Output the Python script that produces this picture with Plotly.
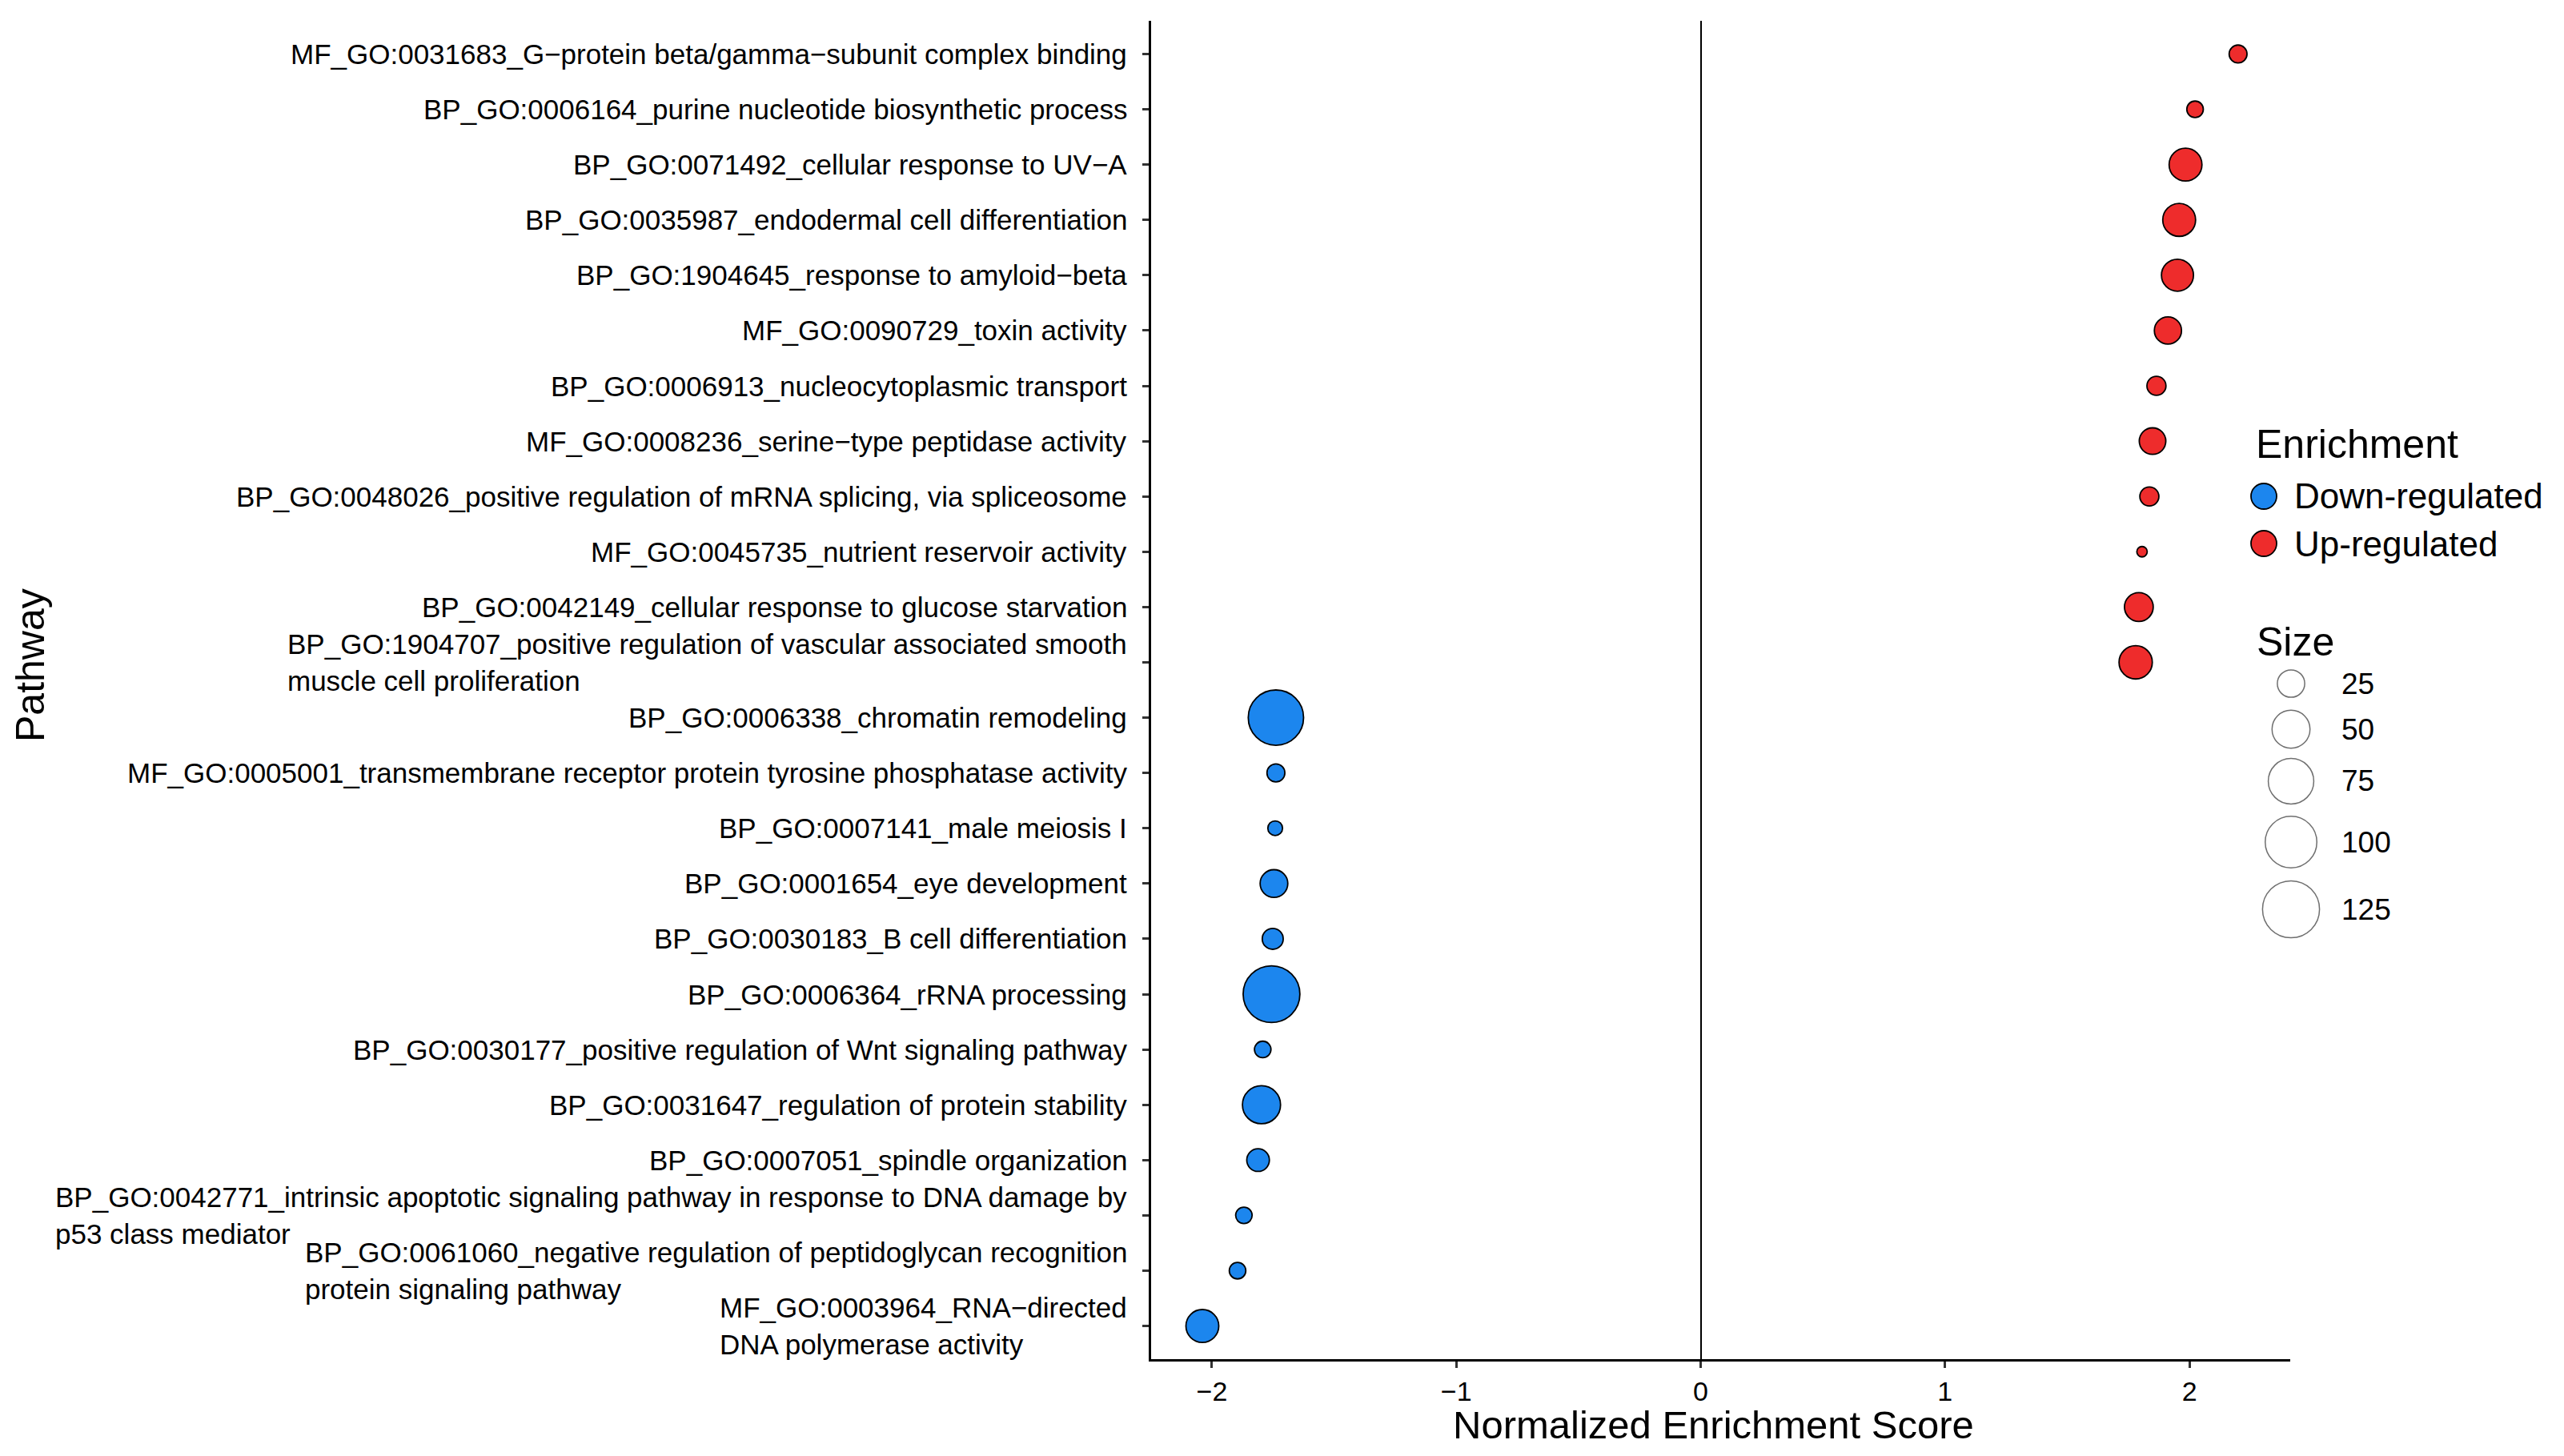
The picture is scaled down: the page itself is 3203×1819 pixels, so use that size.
import math
import plotly.graph_objects as go

# page size and the browser's default 8px body margin
PAGE_W, PAGE_H = 3203, 1819
OFF = 8
W, H = PAGE_W - 2 * OFF, PAGE_H - 2 * OFF

# ---------------- data ----------------
pathways = [
    "MF_GO:0031683_G−protein beta/gamma−subunit complex binding",
    "BP_GO:0006164_purine nucleotide biosynthetic process",
    "BP_GO:0071492_cellular response to UV−A",
    "BP_GO:0035987_endodermal cell differentiation",
    "BP_GO:1904645_response to amyloid−beta",
    "MF_GO:0090729_toxin activity",
    "BP_GO:0006913_nucleocytoplasmic transport",
    "MF_GO:0008236_serine−type peptidase activity",
    "BP_GO:0048026_positive regulation of mRNA splicing, via spliceosome",
    "MF_GO:0045735_nutrient reservoir activity",
    "BP_GO:0042149_cellular response to glucose starvation",
    "BP_GO:1904707_positive regulation of vascular associated smooth\nmuscle cell proliferation",
    "BP_GO:0006338_chromatin remodeling",
    "MF_GO:0005001_transmembrane receptor protein tyrosine phosphatase activity",
    "BP_GO:0007141_male meiosis I",
    "BP_GO:0001654_eye development",
    "BP_GO:0030183_B cell differentiation",
    "BP_GO:0006364_rRNA processing",
    "BP_GO:0030177_positive regulation of Wnt signaling pathway",
    "BP_GO:0031647_regulation of protein stability",
    "BP_GO:0007051_spindle organization",
    "BP_GO:0042771_intrinsic apoptotic signaling pathway in response to DNA damage by\np53 class mediator",
    "BP_GO:0061060_negative regulation of peptidoglycan recognition\nprotein signaling pathway",
    "MF_GO:0003964_RNA−directed\nDNA polymerase activity",
]
nes = [2.199, 2.023, 1.984, 1.958, 1.951, 1.912, 1.865, 1.849, 1.836, 1.806, 1.793, 1.780,
       -1.738, -1.738, -1.741, -1.746, -1.751, -1.756, -1.792, -1.797, -1.811, -1.869, -1.895, -2.039]
gene_set_size = [13, 12, 37, 37, 35, 25, 14, 24, 14, 10, 28, 38,
                 118, 13, 11, 26, 16, 125, 12, 51, 18, 12, 12, 37]
groups = ["Down-regulated", "Up-regulated"]
size_breaks = [25, 50, 75, 100, 125]
x_tick_vals = [-2, -1, 0, 1, 2]

# ---------------- styles ----------------
FONT = "Liberation Sans, Arial, Helvetica, sans-serif"
COLORS = {"Down-regulated": "#1C86EE", "Up-regulated": "#EE2C2C"}
PT_LINE = 1.8
SMIN = min(gene_set_size)


def diam(s, line):
    # ggplot-like area scaling: diameter grows with sqrt of (size - min)
    return 14.8 + 5.4 * math.sqrt(max(s - SMIN, 0)) - line


def px(p):
    # page pixel -> paper fraction
    return (p - OFF) / W


def py(p):
    return 1 - (p - OFF) / H


labels = [p.replace("\n", "<br>") for p in pathways]
enrich = ["Up-regulated" if v > 0 else "Down-regulated" for v in nes]

fig = go.Figure()
for g in groups:
    idx = [i for i, e in enumerate(enrich) if e == g]
    fig.add_trace(go.Scatter(
        x=[nes[i] for i in idx],
        y=[labels[i] for i in idx],
        mode="markers",
        marker=dict(size=[diam(gene_set_size[i], PT_LINE) for i in idx],
                    color=COLORS[g], line=dict(color="black", width=PT_LINE),
                    opacity=1),
        name=g, showlegend=False, hoverinfo="x+y",
        xaxis="x", yaxis="y",
    ))

# legend keys (drawn on an invisible page-pixel overlay)
LEG_KEY_X = 2828
LEG_KEY_Y = [620, 679]
fig.add_trace(go.Scatter(
    x=[LEG_KEY_X] * len(groups), y=LEG_KEY_Y, mode="markers",
    marker=dict(size=32, color=[COLORS[g] for g in groups], line=dict(color="black", width=PT_LINE)),
    showlegend=False, hoverinfo="skip", xaxis="x2", yaxis="y2",
))
SIZE_KEY_X = 2862
SIZE_KEY_Y = [854, 911, 976, 1052, 1136]
fig.add_trace(go.Scatter(
    x=[SIZE_KEY_X] * len(size_breaks), y=SIZE_KEY_Y, mode="markers",
    marker=dict(size=[diam(v, 1.5) for v in size_breaks], color="rgba(255,255,255,0)",
                line=dict(color="#333333", width=1.5)),
    showlegend=False, hoverinfo="skip", xaxis="x2", yaxis="y2",
))

annotations = []
for lab in labels:
    annotations.append(dict(
        x=px(1410), xref="paper", y=lab, yref="y", xanchor="right", yanchor="middle",
        text=lab, align="left", showarrow=False, font=dict(family=FONT, size=35, color="black"),
    ))
annotations.append(dict(x=px(38), y=py(831), xref="paper", yref="paper", text="Pathway",
                        textangle=-90, showarrow=False, xanchor="center", yanchor="middle",
                        font=dict(family=FONT, size=50, color="black")))
annotations.append(dict(x=px(2140), y=py(1780), xref="paper", yref="paper",
                        text="Normalized Enrichment Score", showarrow=False,
                        xanchor="center", yanchor="middle",
                        font=dict(family=FONT, size=49, color="black")))
annotations.append(dict(x=px(2816), y=py(555), xref="paper", yref="paper", text="Enrichment",
                        showarrow=False, xanchor="left", yanchor="middle",
                        font=dict(family=FONT, size=50, color="black")))
for g, yy in zip(groups, LEG_KEY_Y):
    annotations.append(dict(x=px(2864), y=py(yy), xref="paper", yref="paper", text=g,
                            showarrow=False, xanchor="left", yanchor="middle",
                            font=dict(family=FONT, size=44, color="black")))
annotations.append(dict(x=px(2817), y=py(802), xref="paper", yref="paper", text="Size",
                        showarrow=False, xanchor="left", yanchor="middle",
                        font=dict(family=FONT, size=50, color="black")))
for v, yy in zip(size_breaks, SIZE_KEY_Y):
    annotations.append(dict(x=px(2923), y=py(yy), xref="paper", yref="paper", text=str(v),
                            showarrow=False, xanchor="left", yanchor="middle",
                            font=dict(family=FONT, size=37, color="black")))

n = len(labels)
fig.update_layout(
    width=W, height=H,
    margin=dict(l=0, r=0, t=0, b=0),
    paper_bgcolor="white", plot_bgcolor="rgba(0,0,0,0)",
    font=dict(family=FONT, color="black"),
    showlegend=False,
    xaxis=dict(
        domain=[px(1437.5), px(2861)], range=[-2.2503, 2.4124],
        tickmode="array", tickvals=x_tick_vals,
        showgrid=False, zeroline=True, zerolinecolor="black", zerolinewidth=2,
        showline=True, linecolor="black", linewidth=2.7,
        ticks="outside", ticklen=8, tickwidth=2.7, tickcolor="#333333",
        tickfont=dict(family=FONT, size=34, color="black"),
        automargin=False, anchor="y", fixedrange=True,
    ),
    yaxis=dict(
        domain=[py(1698), py(26)], type="category", categoryorder="array", categoryarray=labels,
        range=[n - 1 + 0.6, -0.6],
        showgrid=False, zeroline=False, showticklabels=False,
        showline=True, linecolor="black", linewidth=2.7,
        ticks="outside", ticklen=8, tickwidth=2.7, tickcolor="#333333",
        automargin=False, anchor="x", fixedrange=True,
    ),
    xaxis2=dict(domain=[0, 1], range=[OFF, OFF + W], visible=False, anchor="y2", fixedrange=True),
    yaxis2=dict(domain=[0, 1], range=[OFF + H, OFF], visible=False, anchor="x2", fixedrange=True),
    annotations=annotations,
)

fig.write_html("out.html")
